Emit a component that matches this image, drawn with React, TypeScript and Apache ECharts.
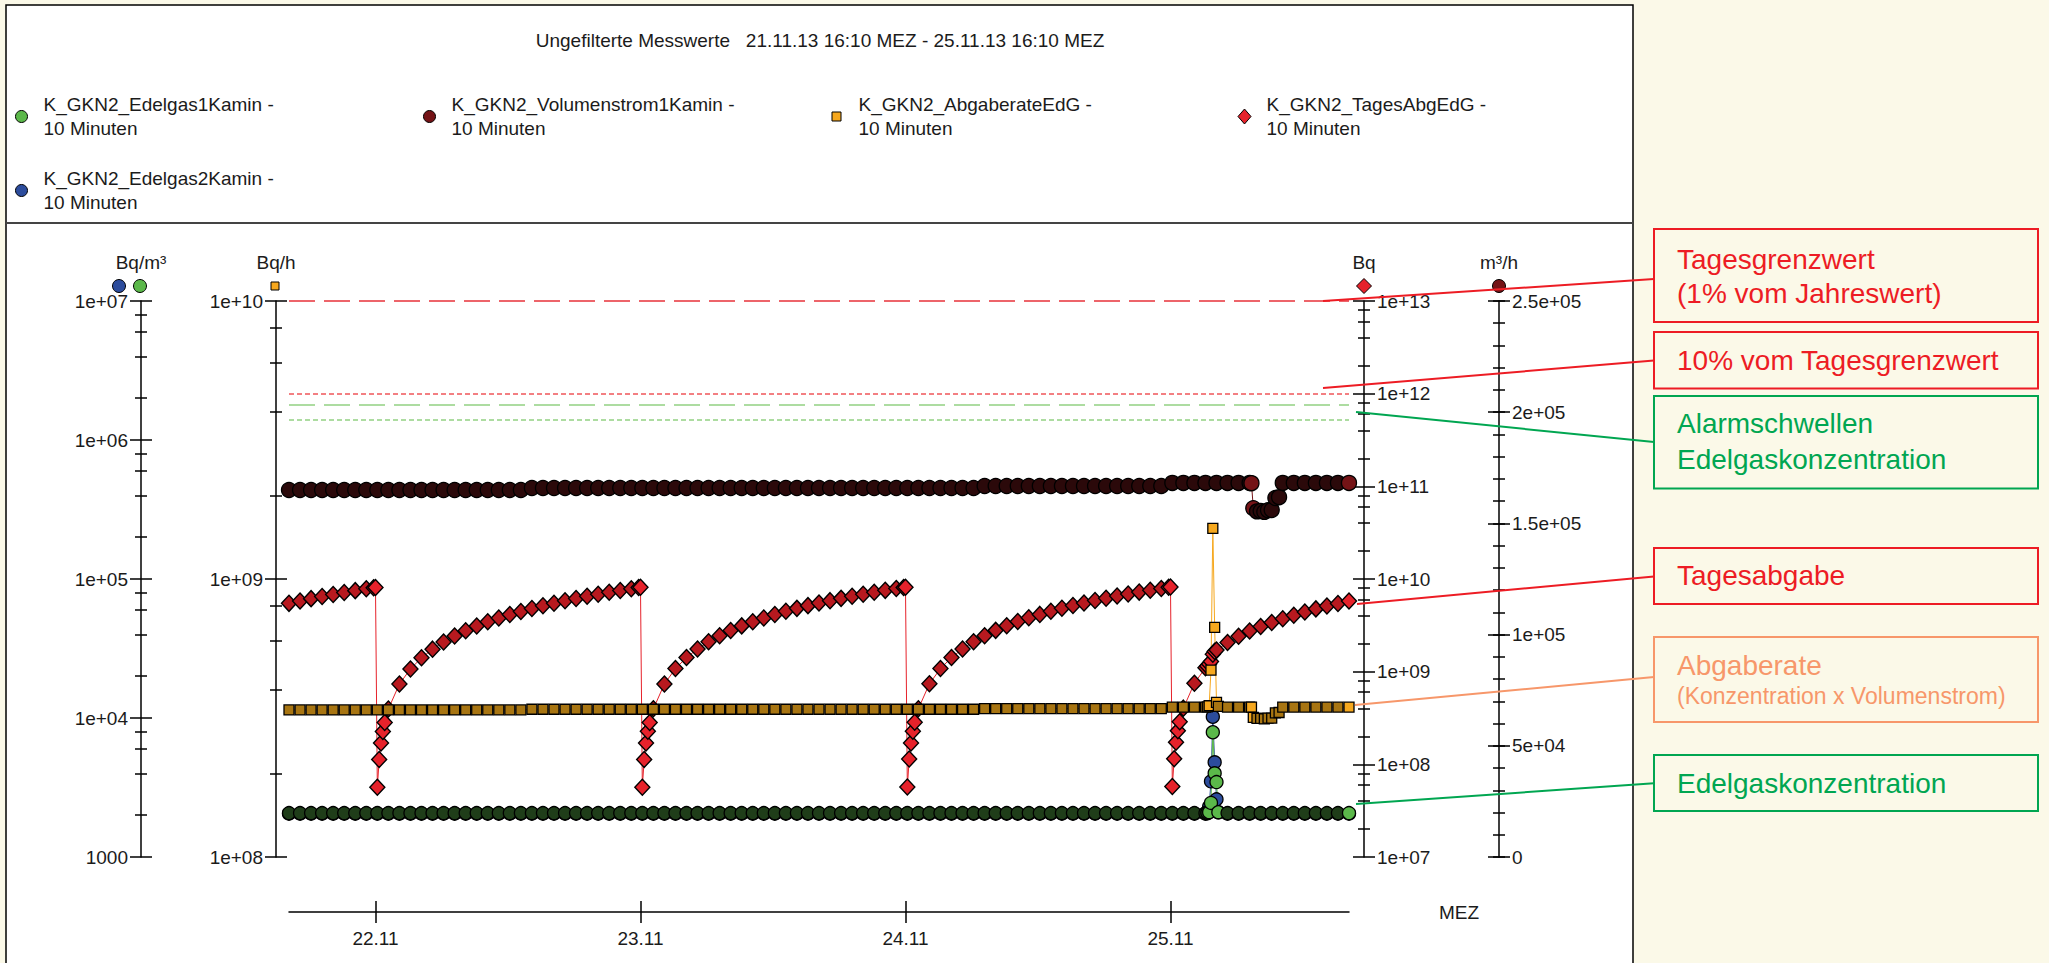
import { useEffect, useRef } from 'react';
import * as echarts from 'echarts';

const FONT = '"Liberation Sans", Arial, Helvetica, sans-serif';
const INK = '#1b1b1b';

const TITLE = 'Ungefilterte Messwerte   21.11.13 16:10 MEZ - 25.11.13 16:10 MEZ';
const NAME_E1 = 'K_GKN2_Edelgas1Kamin';
const NAME_VOL = 'K_GKN2_Volumenstrom1Kamin';
const NAME_ABG = 'K_GKN2_AbgaberateEdG';
const NAME_TAG = 'K_GKN2_TagesAbgEdG';
const NAME_E2 = 'K_GKN2_Edelgas2Kamin';
const INTERVAL_TEXT = '10 Minuten';

const X_RANGE = ['21.11 16:10', '25.11 16:10'];
const DAY_TICKS = ['22.11 00:00', '23.11 00:00', '24.11 00:00', '25.11 00:00'];
const X_NAME = 'MEZ';

const CONC_TICKS = [1e3, 1e4, 1e5, 1e6, 1e7];
const CONC_LABELS = ['1000', '1e+04', '1e+05', '1e+06', '1e+07'];
const RATE_TICKS = [1e8, 1e9, 1e10];
const RATE_LABELS = ['1e+08', '1e+09', '1e+10'];
const DOSE_TICKS = [1e7, 1e8, 1e9, 1e10, 1e11, 1e12, 1e13];
const DOSE_LABELS = ['1e+07', '1e+08', '1e+09', '1e+10', '1e+11', '1e+12', '1e+13'];
const FLOW_TICKS = [0, 5e4, 1e5, 1.5e5, 2e5, 2.5e5];
const FLOW_LABELS = ['0', '5e+04', '1e+05', '1.5e+05', '2e+05', '2.5e+05'];
const FLOW_MINOR_STEP = 1e4;
const LOG_MINOR_FACTORS = [2, 4, 6, 8];

// thresholds
const DAY_LIMIT = 1e13; // Tagesgrenzwert (Bq)
const DAY_LIMIT_10 = 1e12; // 10% vom Tagesgrenzwert (Bq)
const ALARM_LEVELS = [1.8e6, 1.4e6]; // Bq/m³

// hourly samples starting 21.11 16:10 (97 values up to 25.11 16:10)
const HOURLY_START = '21.11 16:10';

const E1_HOURLY = [
  2070, 2070, 2070, 2070, 2070, 2070, 2070, 2070,
  2070, 2070, 2070, 2070, 2070, 2070, 2070, 2070, 2070, 2070, 2070, 2070,
  2070, 2070, 2070, 2070, 2070, 2070, 2070, 2070, 2070, 2070, 2070, 2070,
  2070, 2070, 2070, 2070, 2070, 2070, 2070, 2070, 2070, 2070, 2070, 2070,
  2070, 2070, 2070, 2070, 2070, 2070, 2070, 2070, 2070, 2070, 2070, 2070,
  2070, 2070, 2070, 2070, 2070, 2070, 2070, 2070, 2070, 2070, 2070, 2070,
  2070, 2070, 2070, 2070, 2070, 2070, 2070, 2070, 2070, 2070, 2070, 2070,
  2070, 2070, 2070, 2070, 3460, 2070, 2070, 2070, 2070, 2070, 2070, 2070,
  2070, 2070, 2070, 2070, 2070,
];
const E1_DETAIL_TIMES = ['25.11 03:20', '25.11 03:30', '25.11 03:40', '25.11 03:50', '25.11 04:00', '25.11 04:20'];
const E1_DETAIL = [2080, 2100, 2450, 7900, 4000, 2100];

const E2_HOURLY = [
  2050, 2050, 2050, 2050, 2050, 2050, 2050, 2050,
  2050, 2050, 2050, 2050, 2050, 2050, 2050, 2050, 2050, 2050, 2050, 2050,
  2050, 2050, 2050, 2050, 2050, 2050, 2050, 2050, 2050, 2050, 2050, 2050,
  2050, 2050, 2050, 2050, 2050, 2050, 2050, 2050, 2050, 2050, 2050, 2050,
  2050, 2050, 2050, 2050, 2050, 2050, 2050, 2050, 2050, 2050, 2050, 2050,
  2050, 2050, 2050, 2050, 2050, 2050, 2050, 2050, 2050, 2050, 2050, 2050,
  2050, 2050, 2050, 2050, 2050, 2050, 2050, 2050, 2050, 2050, 2050, 2050,
  2050, 2050, 2050, 2050, 2600, 2050, 2050, 2050, 2050, 2050, 2050, 2050,
  2050, 2050, 2050, 2050, 2050,
];
const E2_DETAIL_TIMES = ['25.11 03:20', '25.11 03:30', '25.11 03:40', '25.11 03:50', '25.11 04:00', '25.11 04:20'];
const E2_DETAIL = [2060, 2300, 3500, 10200, 4800, 2100];

const VOL_HOURLY = [
  165000, 165000, 165000, 165000, 165000, 165000, 165000, 165000,
  165000, 165000, 165000, 165000, 165000, 165000, 165000, 165000, 165000, 165000, 165000, 165000,
  165000, 165000, 165900, 165900, 165900, 165900, 165900, 165900, 165900, 165900, 165900, 165900,
  165900, 165900, 165900, 165900, 165900, 165900, 165900, 165900, 165900, 165900, 165900, 165900,
  165900, 165900, 165900, 165900, 165900, 165900, 165900, 165900, 165900, 165900, 165900, 165900,
  165900, 165900, 165900, 165900, 165900, 165900, 165900, 166800, 166800, 166800, 166800, 166800,
  166800, 166800, 166800, 166800, 166800, 166800, 166800, 166800, 166800, 166800, 166800, 166800,
  168200, 168200, 168200, 168200, 168200, 168200, 168200, 168200, 155600, 156000, 168200, 168200,
  168200, 168200, 168200, 168200, 168200,
];
const VOL_DETAIL_TIMES = ['25.11 07:20', '25.11 07:30', '25.11 07:50', '25.11 08:30', '25.11 08:50', '25.11 09:30', '25.11 09:50'];
const VOL_DETAIL = [168100, 156800, 155400, 155200, 155900, 161400, 161800];

const ABG_HOURLY = [
  3.38e8, 3.38e8, 3.38e8, 3.38e8, 3.38e8, 3.38e8, 3.38e8, 3.38e8,
  3.38e8, 3.38e8, 3.38e8, 3.38e8, 3.38e8, 3.38e8, 3.38e8, 3.38e8, 3.38e8, 3.38e8, 3.38e8, 3.38e8,
  3.38e8, 3.38e8, 3.40e8, 3.40e8, 3.40e8, 3.40e8, 3.40e8, 3.40e8, 3.40e8, 3.40e8, 3.40e8, 3.40e8,
  3.40e8, 3.40e8, 3.40e8, 3.40e8, 3.40e8, 3.40e8, 3.40e8, 3.40e8, 3.40e8, 3.40e8, 3.40e8, 3.40e8,
  3.40e8, 3.40e8, 3.40e8, 3.40e8, 3.40e8, 3.40e8, 3.40e8, 3.40e8, 3.40e8, 3.40e8, 3.40e8, 3.40e8,
  3.40e8, 3.40e8, 3.40e8, 3.40e8, 3.40e8, 3.40e8, 3.40e8, 3.42e8, 3.42e8, 3.42e8, 3.42e8, 3.42e8,
  3.42e8, 3.42e8, 3.42e8, 3.42e8, 3.42e8, 3.42e8, 3.42e8, 3.42e8, 3.42e8, 3.42e8, 3.42e8, 3.42e8,
  3.46e8, 3.46e8, 3.46e8, 3.46e8, 3.60e8, 3.46e8, 3.46e8, 3.46e8, 3.15e8, 3.16e8, 3.46e8, 3.46e8,
  3.46e8, 3.46e8, 3.46e8, 3.46e8, 3.46e8,
];
const ABG_DETAIL_TIMES = [
  '25.11 03:20', '25.11 03:30', '25.11 03:40', '25.11 03:50', '25.11 04:00', '25.11 04:20',
  '25.11 07:20', '25.11 07:30', '25.11 07:50', '25.11 08:30', '25.11 08:50', '25.11 09:30', '25.11 09:50',
];
const ABG_DETAIL = [3.47e8, 3.5e8, 4.7e8, 1.52e9, 6.7e8, 3.48e8, 3.46e8, 3.18e8, 3.15e8, 3.14e8, 3.16e8, 3.3e8, 3.31e8];

const TAG_HOURLY = [
  5.46e9, 5.80e9, 6.14e9, 6.48e9, 6.81e9, 7.15e9, 7.49e9, 7.83e9,
  5.65e7, 3.96e8, 7.35e8, 1.07e9, 1.41e9, 1.75e9, 2.09e9, 2.43e9, 2.77e9, 3.11e9, 3.45e9, 3.79e9,
  4.13e9, 4.47e9, 4.80e9, 5.14e9, 5.48e9, 5.82e9, 6.16e9, 6.50e9, 6.84e9, 7.18e9, 7.52e9, 7.86e9,
  5.67e7, 3.97e8, 7.37e8, 1.08e9, 1.42e9, 1.76e9, 2.10e9, 2.44e9, 2.78e9, 3.12e9, 3.46e9, 3.80e9,
  4.14e9, 4.48e9, 4.82e9, 5.16e9, 5.50e9, 5.84e9, 6.18e9, 6.52e9, 6.86e9, 7.20e9, 7.54e9, 7.88e9,
  5.68e7, 3.98e8, 7.39e8, 1.08e9, 1.42e9, 1.76e9, 2.10e9, 2.44e9, 2.79e9, 3.13e9, 3.47e9, 3.81e9,
  4.15e9, 4.49e9, 4.83e9, 5.17e9, 5.51e9, 5.86e9, 6.20e9, 6.54e9, 6.88e9, 7.22e9, 7.56e9, 7.90e9,
  5.77e7, 4.04e8, 7.50e8, 1.10e9, 1.715e9, 2.06e9, 2.41e9, 2.75e9, 3.07e9, 3.39e9, 3.72e9, 4.07e9,
  4.41e9, 4.76e9, 5.10e9, 5.45e9, 5.80e9,
];
const TAG_DETAIL_TIMES = [
  '21.11 23:50', '22.11 00:00', '22.11 00:20', '22.11 00:30', '22.11 00:40', '22.11 00:50',
  '22.11 23:50', '23.11 00:00', '23.11 00:20', '23.11 00:30', '23.11 00:40', '23.11 00:50',
  '23.11 23:50', '24.11 00:00', '24.11 00:20', '24.11 00:30', '24.11 00:40', '24.11 00:50',
  '24.11 23:50', '25.11 00:00', '25.11 00:20', '25.11 00:30', '25.11 00:40', '25.11 00:50',
  '25.11 03:20', '25.11 03:30', '25.11 03:40', '25.11 03:50', '25.11 04:00',
];
const TAG_DETAIL = [
  8.05e9, 8.11e9, 1.13e8, 1.70e8, 2.26e8, 2.83e8,
  8.08e9, 8.14e9, 1.13e8, 1.70e8, 2.27e8, 2.83e8,
  8.10e9, 8.16e9, 1.14e8, 1.70e8, 2.27e8, 2.84e8,
  8.13e9, 8.19e9, 1.15e8, 1.73e8, 2.31e8, 2.88e8,
  1.154e9, 1.212e9, 1.29e9, 1.543e9, 1.655e9,
];

const COLORS = {
  e1: '#5BB84A',
  e2: '#2C4C9C',
  vol: '#741316',
  abg: '#F6A81E',
  tag: '#E6222B',
  limit: '#E8323A',
  limit10: '#F0555A',
  alarm: '#93D183',
  annRed: '#ED1C24',
  annGreen: '#00A651',
  annOrange: '#F7976A',
  page: '#FBF9E8',
};
// fills for markers that sit inside the densely overlapped 10-minute bands
const BAND_FILL = {
  e1: '#1f3d19',
  e2: '#18264a',
  vol: '#2b090a',
  abg: '#a87512',
  tag: '#b8191f',
};

// legend entries: icon centre x, row top
const LEGEND_ITEMS = [
  { name: NAME_E1, icon: 'circle', color: COLORS.e1, cx: 21, top: 93, w: 12, h: 12 },
  { name: NAME_VOL, icon: 'circle', color: COLORS.vol, cx: 429, top: 93, w: 12, h: 12 },
  { name: NAME_ABG, icon: 'rect', color: COLORS.abg, cx: 836, top: 93, w: 9, h: 9 },
  { name: NAME_TAG, icon: 'diamond', color: COLORS.tag, cx: 1244, top: 93, w: 13, h: 15 },
  { name: NAME_E2, icon: 'circle', color: COLORS.e2, cx: 21, top: 167, w: 12, h: 12 },
];
const LEGEND_TEXT_GAP = 22;

const ANNOTATIONS = [
  { color: COLORS.annRed, box: [229, 93], from: [1323, 301], to: [1654, 279],
    lines: [{ text: 'Tagesgrenzwert', base: 269.3, size: 28 }, { text: '(1% vom Jahreswert)', base: 303.3, size: 28 }] },
  { color: COLORS.annRed, box: [332, 56.5], from: [1323, 388], to: [1654, 360.5],
    lines: [{ text: '10% vom Tagesgrenzwert', base: 370.7, size: 28 }] },
  { color: COLORS.annGreen, box: [396, 92.5], from: [1356, 412], to: [1654, 442],
    lines: [{ text: 'Alarmschwellen', base: 433.3, size: 28 }, { text: 'Edelgaskonzentration', base: 469.3, size: 28 }] },
  { color: COLORS.annRed, box: [548, 56], from: [1357, 604], to: [1654, 576.4],
    lines: [{ text: 'Tagesabgabe', base: 585.7, size: 28 }] },
  { color: COLORS.annOrange, box: [637, 85], from: [1355, 705], to: [1654, 677],
    lines: [{ text: 'Abgaberate', base: 675, size: 28 }, { text: '(Konzentration x Volumenstrom)', base: 704, size: 23 }] },
  { color: COLORS.annGreen, box: [755, 56], from: [1356, 804], to: [1654, 783.3],
    lines: [{ text: 'Edelgaskonzentration', base: 793.3, size: 28 }] },
];

const ts = (s: string) => {
  const [d, hm] = s.split(' ');
  const [dd, mo] = d.split('.').map(Number);
  const [h, m] = hm.split(':').map(Number);
  return Date.UTC(2013, mo - 1, dd, h, m);
};
const HOUR_MS = 3600000;

// merges hourly readings with the 10-minute detail readings; markers lying in a
// densely overlapped stretch get the darker band fill
function build(hourly: number[], detailTimes: string[], detail: number[], bandFill?: string, curve = false) {
  const start = ts(HOURLY_START);
  const pts: [number, number, boolean][] = hourly.map((v, i) => [start + i * HOUR_MS, v, true]);
  detailTimes.forEach((s, i) => pts.push([ts(s), detail[i], false]));
  pts.sort((a, b) => a[0] - b[0]);
  const near = (a: number, b: number) => Math.abs(a / b - 1) < 0.05;
  return pts.map((p, i) => {
    const value = [p[0], p[1]];
    if (!bandFill || i === pts.length - 1) return value;
    let dense: boolean;
    if (curve) {
      dense = p[2] && p[1] > 3e8;
    } else {
      const prev = pts[i - 1];
      const next = pts[i + 1];
      dense = (!prev || near(prev[1], p[1])) && !!next && near(next[1], p[1]);
    }
    return dense ? { value, itemStyle: { color: bandFill } } : value;
  });
}

const labelFrom = (ticks: number[], labels: string[], log: boolean) => (v: number) => {
  const i = ticks.findIndex((t) =>
    log ? Math.abs(Math.log10(t) - Math.log10(v)) < 1e-6 : Math.abs(t - v) < 1e-6 * Math.max(1, Math.abs(t)));
  return i >= 0 ? labels[i] : '';
};

const tickLine = { color: '#000', width: 1.5 };
const LABEL_SIZE = 19;

function overlay(min: number, max: number, position: string, offset: number, half: number, values: number[]) {
  return {
    type: 'value', min, max, position, offset: offset + half,
    axisLine: { show: false, onZero: false }, axisLabel: { show: false }, splitLine: { show: false },
    axisTick: { show: true, inside: true, length: 2 * half, lineStyle: tickLine, customValues: values },
  };
}

function logAxes(name: string, min: number, max: number, ticks: number[], labels: string[], position: string, offset: number) {
  const lo = Math.log10(min);
  const hi = Math.log10(max);
  const majors = ticks.map((t) => Math.log10(t));
  const minors: number[] = [];
  for (let d = Math.round(lo); d < Math.round(hi); d++) {
    LOG_MINOR_FACTORS.forEach((f) => minors.push(d + Math.log10(f)));
  }
  return [
    {
      type: 'log', logBase: 10, min, max, position, offset,
      name, nameLocation: 'end', nameGap: 29, nameMoveOverlap: false,
      nameTextStyle: { fontSize: LABEL_SIZE, color: INK, fontFamily: FONT },
      axisLine: { show: true, onZero: false, lineStyle: { color: '#000', width: 1.5 } },
      axisTick: { show: false },
      axisLabel: { show: true, margin: 13, fontSize: LABEL_SIZE, color: INK, fontFamily: FONT, formatter: labelFrom(ticks, labels, true) },
      splitLine: { show: false },
    },
    overlay(lo, hi, position, offset, 11, majors),
    overlay(lo, hi, position, offset, 6, minors),
  ];
}

function flowAxes(position: string, offset: number) {
  const max = FLOW_TICKS[FLOW_TICKS.length - 1];
  const minors: number[] = [];
  for (let v = 0; v <= max + 1; v += FLOW_MINOR_STEP) minors.push(v);
  return [
    {
      type: 'value', min: 0, max, interval: 5e4, position, offset,
      name: 'm³/h', nameLocation: 'end', nameGap: 29, nameMoveOverlap: false,
      nameTextStyle: { fontSize: LABEL_SIZE, color: INK, fontFamily: FONT },
      axisLine: { show: true, onZero: false, lineStyle: { color: '#000', width: 1.5 } },
      axisTick: { show: false },
      axisLabel: { show: true, margin: 13, fontSize: LABEL_SIZE, color: INK, fontFamily: FONT, formatter: labelFrom(FLOW_TICKS, FLOW_LABELS, false) },
      splitLine: { show: false },
    },
    overlay(0, max, position, offset, 11, FLOW_TICKS),
    overlay(0, max, position, offset, 6, minors),
  ];
}

function series(name: string, color: string, symbol: string, size: any, yAxisIndex: number, data: any, border: number, extra: any = {}) {
  return {
    name, type: 'line', xAxisIndex: 0, yAxisIndex, data, symbol, symbolSize: size,
    showSymbol: true, clip: false, silent: true, emphasis: { disabled: true },
    lineStyle: { color, width: 1 },
    itemStyle: { color, borderColor: '#000', borderWidth: border },
    ...extra,
  };
}

function buildOption() {
  const [axC, axCMaj, axCMin] = logAxes('Bq/m³', 1e3, 1e7, CONC_TICKS, CONC_LABELS, 'left', 148);
  const [axR, axRMaj, axRMin] = logAxes('Bq/h', 1e8, 1e10, RATE_TICKS, RATE_LABELS, 'left', 13);
  const [axD, axDMaj, axDMin] = logAxes('Bq', 1e7, 1e13, DOSE_TICKS, DOSE_LABELS, 'right', 15);
  const [axF, axFMaj, axFMin] = flowAxes('right', 150);

  const dayTicks = DAY_TICKS.map(ts);
  const xMin = ts(X_RANGE[0]);
  const xMax = ts(X_RANGE[1]);

  const graphics: any[] = [
    { type: 'rect', z: -10, silent: true, shape: { x: 6, y: 5, width: 1627, height: 1000 },
      style: { fill: '#ffffff', stroke: '#000', lineWidth: 1.5 } },
    { type: 'line', z: -9, silent: true, shape: { x1: 6, y1: 223, x2: 1633, y2: 223 },
      style: { stroke: '#444', lineWidth: 2 } },
    // axis series markers
    { type: 'circle', z: 10, silent: true, shape: { cx: 119, cy: 286, r: 6.5 }, style: { fill: COLORS.e2, stroke: '#000', lineWidth: 1 } },
    { type: 'circle', z: 10, silent: true, shape: { cx: 140, cy: 286, r: 6.5 }, style: { fill: COLORS.e1, stroke: '#000', lineWidth: 1 } },
    { type: 'rect', z: 10, silent: true, shape: { x: 271, y: 282, width: 8, height: 8 }, style: { fill: COLORS.abg, stroke: '#000', lineWidth: 1 } },
    { type: 'polygon', z: 10, silent: true, shape: { points: [[1364, 278.5], [1371.5, 286], [1364, 293.5], [1356.5, 286]] },
      style: { fill: COLORS.tag, stroke: '#000', lineWidth: 1 } },
    { type: 'circle', z: 10, silent: true, shape: { cx: 1499, cy: 286, r: 6.5 }, style: { fill: COLORS.vol, stroke: '#000', lineWidth: 1 } },
  ];
  ANNOTATIONS.forEach((a) => {
    graphics.push({ type: 'line', z: 100, silent: true,
      shape: { x1: a.from[0], y1: a.from[1], x2: a.to[0], y2: a.to[1] }, style: { stroke: a.color, lineWidth: 2 } });
    graphics.push({ type: 'rect', z: 100, silent: true,
      shape: { x: 1654, y: a.box[0], width: 384, height: a.box[1] }, style: { fill: 'none', stroke: a.color, lineWidth: 2 } });
    a.lines.forEach((l) => {
      graphics.push({ type: 'text', z: 100, silent: true, x: 1677, y: l.base - 0.3465 * l.size,
        style: { text: l.text, fill: a.color, fontSize: l.size, fontFamily: FONT, verticalAlign: 'middle', align: 'left' } });
    });
  });

  const dayLabel = (v: number) => {
    const d = new Date(v);
    return `${d.getUTCDate()}.${d.getUTCMonth() + 1}`;
  };

  const legends = LEGEND_ITEMS.map((it) => ({
    left: it.cx - it.w / 2, top: it.top, padding: 0, orient: 'horizontal',
    itemWidth: it.w, itemHeight: it.h, selectedMode: false,
    itemStyle: { color: it.color, borderColor: '#000', borderWidth: 1 },
    formatter: (n: string) => `${n} -\n${INTERVAL_TEXT}`,
    textStyle: {
      fontSize: 19, lineHeight: 23.5, color: INK, fontFamily: FONT,
      padding: [0, 0, 0, LEGEND_TEXT_GAP - it.w / 2 - 5],
    },
    data: [{ name: it.name, icon: it.icon }],
  }));

  return {
    animation: false,
    backgroundColor: COLORS.page,
    textStyle: { fontFamily: FONT },
    title: {
      text: TITLE, left: 820, top: 31, textAlign: 'center', padding: 0,
      textStyle: { fontSize: 19, fontWeight: 'normal', color: INK, fontFamily: FONT },
    },
    legend: legends,
    grid: { left: 289, right: 700, top: 301, bottom: 106, containLabel: false },
    xAxis: [
      {
        type: 'value', min: xMin, max: xMax, position: 'bottom', offset: 55,
        name: X_NAME, nameLocation: 'end', nameGap: 90, nameMoveOverlap: false,
        nameTextStyle: { fontSize: LABEL_SIZE, color: INK, fontFamily: FONT },
        axisLine: { show: true, onZero: false, lineStyle: { color: '#000', width: 1.5 } },
        axisTick: { show: false },
        axisLabel: {
          show: true, margin: 17, fontSize: LABEL_SIZE, color: INK, fontFamily: FONT, customValues: dayTicks,
          formatter: dayLabel,
        },
        splitLine: { show: false },
      },
      {
        type: 'value', min: xMin, max: xMax, position: 'bottom', offset: 66,
        axisLine: { show: false, onZero: false }, axisLabel: { show: false }, splitLine: { show: false },
        axisTick: { show: true, inside: true, length: 22, lineStyle: tickLine, customValues: dayTicks },
      },
    ],
    yAxis: [axC, axR, axD, axF, axCMaj, axCMin, axRMaj, axRMin, axDMaj, axDMin, axFMaj, axFMin],
    series: [
      series(NAME_E2, COLORS.e2, 'circle', 13, 0, build(E2_HOURLY, E2_DETAIL_TIMES, E2_DETAIL, BAND_FILL.e2), 1.3),
      series(NAME_VOL, COLORS.vol, 'circle', 15, 3, build(VOL_HOURLY, VOL_DETAIL_TIMES, VOL_DETAIL, BAND_FILL.vol), 1.3),
      series(NAME_TAG, COLORS.tag, 'diamond', [15, 16], 2, build(TAG_HOURLY, TAG_DETAIL_TIMES, TAG_DETAIL, BAND_FILL.tag, true), 1.4, {
        markLine: {
          silent: true, symbol: 'none', label: { show: false }, animation: false,
          data: [
            { yAxis: DAY_LIMIT, lineStyle: { color: COLORS.limit, type: [26, 9], width: 1.5 } },
            { yAxis: DAY_LIMIT_10, lineStyle: { color: COLORS.limit10, type: [5, 3], width: 1.5 } },
          ],
        },
      }),
      series(NAME_ABG, COLORS.abg, 'rect', 10, 1, build(ABG_HOURLY, ABG_DETAIL_TIMES, ABG_DETAIL, BAND_FILL.abg), 1.3),
      series(NAME_E1, COLORS.e1, 'circle', 13, 0, build(E1_HOURLY, E1_DETAIL_TIMES, E1_DETAIL, BAND_FILL.e1), 1.3, {
        markLine: {
          silent: true, symbol: 'none', label: { show: false }, animation: false,
          data: [
            { yAxis: ALARM_LEVELS[0], lineStyle: { color: COLORS.alarm, type: [26, 9], width: 1.5 } },
            { yAxis: ALARM_LEVELS[1], lineStyle: { color: COLORS.alarm, type: [5, 3], width: 1.5 } },
          ],
        },
      }),
    ],
    graphic: graphics,
  };
}

export default function App() {
  const ref = useRef<HTMLDivElement>(null);
  useEffect(() => {
    if (!ref.current) return;
    const chart = echarts.init(ref.current, undefined, { renderer: 'svg' });
    chart.setOption(buildOption() as any);
    return () => chart.dispose();
  }, []);
  return <div ref={ref} style={{ position: 'absolute', left: 0, top: 0, width: 2049, height: 963 }} />;
}
